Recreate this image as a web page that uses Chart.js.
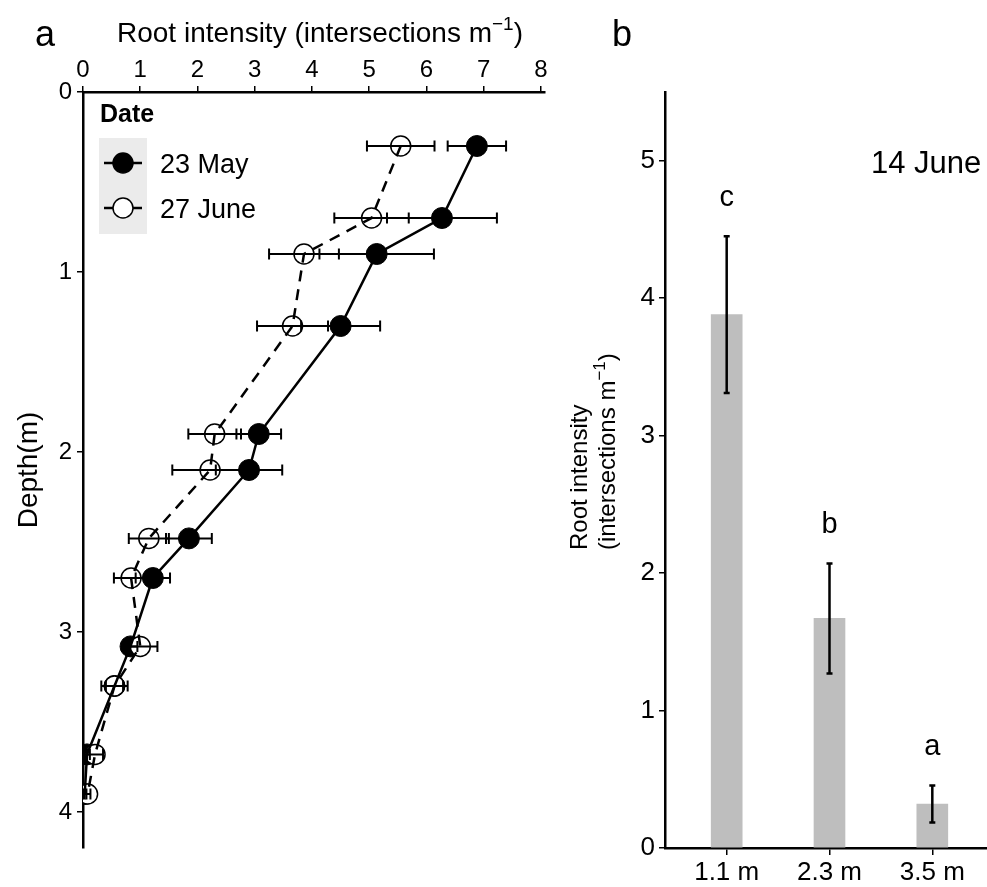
<!DOCTYPE html>
<html>
<head>
<meta charset="utf-8">
<script src="https://cdn.jsdelivr.net/npm/chart.js@4.4.1/dist/chart.umd.min.js"></script>
<style>
  html, body { margin: 0; padding: 0; background: #fff; overflow: hidden; }
  #wrap { position: relative; width: 987px; height: 887px; overflow: hidden; }
  #panelA { position: absolute; left: 0; top: 0; }
  #panelB { position: absolute; left: 560px; top: 0; }
</style>
</head>
<body>
<div id="wrap">
  <canvas id="panelA" width="560" height="887"></canvas>
  <canvas id="panelB" width="434" height="887"></canvas>
</div>
<script>
// a: root intensity down the profile, two sampling dates
var depths = [0.3, 0.7, 0.9, 1.3, 1.9, 2.1, 2.48, 2.7, 3.08, 3.3, 3.68, 3.9]
var may23 = [6.88, 6.27, 5.13, 4.50, 3.07, 2.90, 1.85, 1.22, 0.83, 0.55, 0.07, 0.03]
var may23Err = [0.51, 0.96, 1.0, 0.69, 0.39, 0.58, 0.40, 0.30, 0.12, 0.15, 0.05, 0.03]
var june27 = [5.55, 5.04, 3.86, 3.66, 2.30, 2.22, 1.15, 0.84, 1.0, 0.55, 0.21, 0.08]
var june27Err = [0.59, 0.65, 0.61, 0.62, 0.46, 0.66, 0.35, 0.30, 0.30, 0.23, 0.14, 0.05]
var intensityTicks = [0, 1, 2, 3, 4, 5, 6, 7, 8]
var depthTicks = [0, 1, 2, 3, 4]

// b: 14 June, by tube depth
var tubeDepths = ['1.1 m', '2.3 m', '3.5 m']
var june14 = [3.88, 1.67, 0.32]
var june14Err = [0.57, 0.40, 0.135]
var sigLetters = ['c', 'b', 'a']
var barTicks = [0, 1, 2, 3, 4, 5]

var FONT = "'Liberation Sans', Arial, sans-serif"
Chart.defaults.font.family = FONT
Chart.defaults.color = '#000'

function pts(xs) {
  return xs.map(function (v, i) { return { x: v, y: depths[i] } })
}

function tickList(values) {
  return function (scale) {
    scale.ticks = values.map(function (v) { return { value: v } })
  }
}

// draws text pieces one after the other (used for the m^-1 superscript)
function drawRich(ctx, parts, x, y, align) {
  var total = 0
  parts.forEach(function (p) {
    ctx.font = p.font
    p.w = ctx.measureText(p.text).width
    total += p.w
  })
  var cx = align === 'center' ? x - total / 2 : x
  ctx.textAlign = 'left'
  ctx.textBaseline = 'alphabetic'
  parts.forEach(function (p) {
    ctx.font = p.font
    ctx.fillText(p.text, cx, y + (p.dy || 0))
    cx += p.w
  })
}

function axisStyle(extra) {
  var s = {
    ticks: { font: { size: 24 }, color: '#000', maxRotation: 0, autoSkip: false },
    grid: { drawOnChartArea: false, drawTicks: true, tickLength: 6, color: '#000', lineWidth: 1.5 },
    border: { display: true, color: '#000', width: 2.5 }
  }
  for (var k in extra) s[k] = extra[k]
  return s
}

var errorBarsA = {
  id: 'errorBarsA',
  afterDatasetsDraw: function (chart) {
    var ctx = chart.ctx
    var xs = chart.scales.x
    var ys = chart.scales.y
    var series = [[may23, may23Err], [june27, june27Err]]
    ctx.save()
    ctx.strokeStyle = '#000'
    ctx.lineWidth = 2
    series.forEach(function (s) {
      s[0].forEach(function (v, i) {
        var y = ys.getPixelForValue(depths[i])
        var x0 = xs.getPixelForValue(v - s[1][i])
        var x1 = xs.getPixelForValue(v + s[1][i])
        ctx.beginPath()
        ctx.moveTo(x0, y)
        ctx.lineTo(x1, y)
        ctx.moveTo(x0, y - 5.5)
        ctx.lineTo(x0, y + 5.5)
        ctx.moveTo(x1, y - 5.5)
        ctx.lineTo(x1, y + 5.5)
        ctx.stroke()
      })
    })
    ctx.restore()
  }
}

var decorA = {
  id: 'decorA',
  afterDraw: function (chart) {
    var ctx = chart.ctx
    ctx.save()
    ctx.fillStyle = '#000'

    // panel tag and top axis title
    ctx.font = '36px ' + FONT
    ctx.textAlign = 'left'
    ctx.textBaseline = 'alphabetic'
    ctx.fillText('a', 35, 46)
    drawRich(ctx, [
      { text: 'Root intensity (intersections m', font: '28px ' + FONT },
      { text: '\u22121', font: '19px ' + FONT, dy: -12 },
      { text: ')', font: '28px ' + FONT }
    ], 320, 42, 'center')

    // legend
    ctx.font = 'bold 25px ' + FONT
    ctx.fillText('Date', 100, 122)
    ctx.fillStyle = '#ebebeb'
    ctx.fillRect(99, 138, 48, 96)
    var rows = [
      { y: 163, label: '23 May', fill: '#000' },
      { y: 208, label: '27 June', fill: '#fff' }
    ]
    rows.forEach(function (r) {
      ctx.strokeStyle = '#000'
      ctx.lineWidth = 2.5
      ctx.beginPath()
      ctx.moveTo(104, r.y)
      ctx.lineTo(142, r.y)
      ctx.stroke()
      ctx.beginPath()
      ctx.arc(123, r.y, 10, 0, Math.PI * 2)
      ctx.fillStyle = r.fill
      ctx.fill()
      ctx.lineWidth = 1.5
      ctx.stroke()
      ctx.fillStyle = '#000'
      ctx.font = '27px ' + FONT
      ctx.fillText(r.label, 160, r.y + 10)
    })
    ctx.restore()
  }
}

new Chart(document.getElementById('panelA'), {
  type: 'scatter',
  data: {
    datasets: [
      { label: '27 June', data: pts(june27), showLine: true, borderColor: '#000', borderWidth: 2.5, borderDash: [11, 8], pointRadius: 0, order: 0 },
      { label: '23 May', data: pts(may23), showLine: true, borderColor: '#000', borderWidth: 2.5, pointRadius: 0, order: 1 },
      { label: '27 June', data: pts(june27), showLine: false, pointRadius: 10, pointBackgroundColor: '#fff', pointBorderColor: '#000', pointBorderWidth: 1.5, order: 2 },
      { label: '23 May', data: pts(may23), showLine: false, pointRadius: 10.5, pointBackgroundColor: '#000', pointBorderColor: '#000', pointBorderWidth: 1, order: 3 }
    ]
  },
  options: {
    responsive: false,
    animation: false,
    devicePixelRatio: 1,
    layout: { padding: { left: 0, top: 0, right: 15, bottom: 39 } },
    plugins: { legend: { display: false }, tooltip: { enabled: false } },
    scales: {
      x: axisStyle({
        type: 'linear', position: 'top', min: 0, max: 8.07,
        afterFit: function (s) { s.height = 92 },
        afterBuildTicks: tickList(intensityTicks),
        ticks: { font: { size: 24 }, color: '#000', padding: 1, maxRotation: 0, autoSkip: false }
      }),
      y: axisStyle({
        type: 'linear', reverse: true, min: 0, max: 4.2,
        afterFit: function (s) { s.width = 83 },
        afterBuildTicks: tickList(depthTicks),
        ticks: { font: { size: 24 }, color: '#000', padding: 5, autoSkip: false },
        title: { display: true, text: 'Depth(m)', font: { size: 28 }, color: '#000', padding: { top: 12, bottom: 0 } }
      })
    }
  },
  plugins: [errorBarsA, decorA]
})

var decorB = {
  id: 'decorB',
  afterDatasetsDraw: function (chart) {
    var ctx = chart.ctx
    var xs = chart.scales.x
    var ys = chart.scales.y
    ctx.save()
    ctx.strokeStyle = '#000'
    ctx.lineWidth = 2.5
    june14.forEach(function (v, i) {
      var x = xs.getPixelForValue(i)
      var y0 = ys.getPixelForValue(v - june14Err[i])
      var y1 = ys.getPixelForValue(v + june14Err[i])
      ctx.beginPath()
      ctx.moveTo(x, y0)
      ctx.lineTo(x, y1)
      ctx.moveTo(x - 3, y0)
      ctx.lineTo(x + 3, y0)
      ctx.moveTo(x - 3, y1)
      ctx.lineTo(x + 3, y1)
      ctx.stroke()
      // significance letter above the error bar
      ctx.fillStyle = '#000'
      ctx.font = '29px ' + FONT
      ctx.textAlign = 'center'
      ctx.textBaseline = 'alphabetic'
      ctx.fillText(sigLetters[i], x, ys.getPixelForValue(v + june14Err[i] + 0.22))
    })
    ctx.restore()
  },
  afterDraw: function (chart) {
    var ctx = chart.ctx
    ctx.save()
    ctx.fillStyle = '#000'
    ctx.textAlign = 'left'
    ctx.textBaseline = 'alphabetic'
    ctx.font = '36px ' + FONT
    ctx.fillText('b', 52, 46)
    ctx.font = '31px ' + FONT
    ctx.fillText('14 June', 311, 173)

    // two-line rotated y title
    ctx.translate(27, 550)
    ctx.rotate(-Math.PI / 2)
    drawRich(ctx, [{ text: 'Root intensity', font: '24px ' + FONT }], 0, 0, 'left')
    ctx.rotate(Math.PI / 2)
    ctx.translate(28, 0)
    ctx.rotate(-Math.PI / 2)
    drawRich(ctx, [
      { text: '(intersections m', font: '24px ' + FONT },
      { text: '\u22121', font: '17px ' + FONT, dy: -10 },
      { text: ')', font: '24px ' + FONT }
    ], 0, 0, 'left')
    ctx.restore()
  }
}

new Chart(document.getElementById('panelB'), {
  type: 'bar',
  data: {
    datasets: [{
      label: '14 June',
      data: june14.map(function (v, i) { return { x: i, y: v } }),
      backgroundColor: '#bebebe',
      borderWidth: 0,
      barThickness: 31
    }]
  },
  options: {
    responsive: false,
    animation: false,
    devicePixelRatio: 1,
    layout: { padding: { left: 0, top: 92, right: 0, bottom: 0 } },
    plugins: { legend: { display: false }, tooltip: { enabled: false } },
    scales: {
      x: axisStyle({
        type: 'linear', position: 'bottom', min: -0.6, max: 2.6, offset: false,
        afterFit: function (s) { s.height = 39 },
        afterBuildTicks: tickList([0, 1, 2]),
        ticks: {
          font: { size: 26 }, color: '#000', padding: 2, maxRotation: 0, autoSkip: false,
          callback: function (v) { return tubeDepths[v] }
        },
        grid: { drawOnChartArea: false, drawTicks: true, tickLength: 7, color: '#000', lineWidth: 1.5, offset: false }
      }),
      y: axisStyle({
        type: 'linear', min: 0, max: 5.5,
        afterFit: function (s) { s.width = 105 },
        afterBuildTicks: tickList(barTicks),
        ticks: { font: { size: 26 }, color: '#000', padding: 4, autoSkip: false },
        grid: { drawOnChartArea: false, drawTicks: true, tickLength: 6, color: '#000', lineWidth: 1.5 }
      })
    }
  },
  plugins: [decorB]
})
</script>
</body>
</html>
